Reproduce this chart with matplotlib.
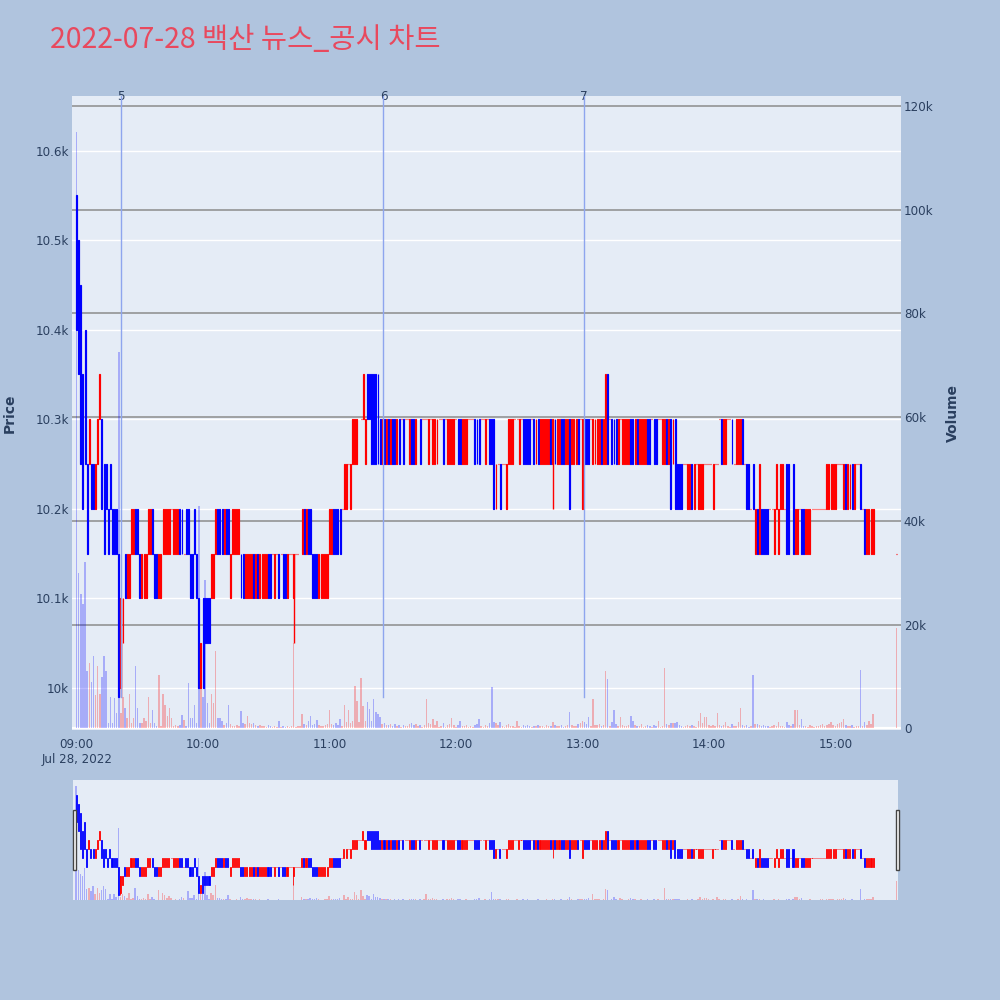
import numpy as np
import pandas as pd
import matplotlib
matplotlib.use('Agg')
from matplotlib import pyplot as plt
from matplotlib.patches import Rectangle

# 1-minute bars, 2022-07-28 (09:00 .. 15:18, then the 15:29 close)
title = '2022-07-28 백산 뉴스_공시 차트'
times = list(pd.date_range('2022-07-28 09:00', '2022-07-28 15:18', freq='min')) + [pd.Timestamp('2022-07-28 15:29')]

opens = [
    10550, 10500, 10450, 10350, 10400, 10250, 10250, 10250, 10250, 10200,
    10250, 10300, 10300, 10250, 10250, 10200, 10250, 10200, 10200, 10200,
    10150, 10000, 10050, 10150, 10100, 10100, 10150, 10150, 10200, 10200,
    10150, 10100, 10100, 10100, 10150, 10150, 10200, 10150, 10150, 10100,
    10100, 10150, 10150, 10150, 10150, 10200, 10150, 10150, 10150, 10200,
    10200, 10150, 10200, 10200, 10150, 10150, 10200, 10150, 10100, 10000,
    10100, 10100, 10100, 10100, 10100, 10100, 10150, 10200, 10200, 10200,
    10150, 10200, 10200, 10100, 10150, 10150, 10150, 10150, 10150, 10150,
    10100, 10100, 10100, 10100, 10150, 10100, 10150, 10100, 10100, 10100,
    10100, 10150, 10150, 10150, 10100, 10150, 10150, 10150, 10150, 10150,
    10100, 10150, 10150, 10100, 10150, 10150, 10150, 10150, 10200, 10150,
    10200, 10200, 10150, 10150, 10150, 10100, 10100, 10100, 10100, 10100,
    10150, 10150, 10200, 10200, 10200, 10200, 10200, 10200, 10200, 10250,
    10200, 10250, 10250, 10250, 10300, 10300, 10300, 10250, 10350, 10350,
    10350, 10350, 10350, 10350, 10300, 10250, 10300, 10250, 10300, 10250,
    10300, 10300, 10250, 10300, 10300, 10300, 10300, 10300, 10250, 10300,
    10300, 10250, 10300, 10300, 10300, 10300, 10300, 10250, 10300, 10250,
    10250, 10250, 10300, 10300, 10300, 10300, 10250, 10250, 10250, 10250,
    10300, 10300, 10300, 10250, 10250, 10250, 10300, 10300, 10300, 10300,
    10300, 10300, 10300, 10300, 10250, 10300, 10300, 10300, 10300, 10200,
    10250, 10250, 10250, 10250, 10200, 10250, 10250, 10250, 10300, 10300,
    10250, 10300, 10300, 10300, 10300, 10300, 10300, 10300, 10250, 10300,
    10250, 10250, 10250, 10250, 10250, 10300, 10250, 10300, 10250, 10250,
    10300, 10300, 10250, 10250, 10300, 10250, 10250, 10250, 10300, 10300,
    10200, 10300, 10300, 10300, 10300, 10250, 10250, 10250, 10250, 10300,
    10250, 10250, 10350, 10300, 10300, 10300, 10300, 10250, 10300, 10250,
    10250, 10250, 10250, 10300, 10300, 10250, 10300, 10250, 10250, 10250,
    10250, 10300, 10300, 10300, 10300, 10300, 10300, 10300, 10250, 10250,
    10300, 10250, 10300, 10250, 10300, 10250, 10250, 10250, 10250, 10250,
    10200, 10200, 10250, 10200, 10250, 10200, 10200, 10200, 10250, 10250,
    10250, 10250, 10200, 10250, 10250, 10300, 10300, 10250, 10250, 10300,
    10300, 10300, 10250, 10250, 10250, 10250, 10300, 10250, 10250, 10250,
    10200, 10250, 10150, 10200, 10150, 10200, 10200, 10200, 10200, 10200,
    10200, 10150, 10200, 10150, 10200, 10200, 10200, 10250, 10250, 10200,
    10250, 10150, 10150, 10200, 10200, 10200, 10150, 10150, 10150, 10200,
    10200, 10200, 10200, 10200, 10200, 10200, 10200, 10200, 10200, 10200,
    10200, 10250, 10250, 10250, 10200, 10250, 10200, 10200, 10250, 10200,
    10250, 10250, 10250, 10200, 10200, 10150, 10150, 10150, 10150,
    10150,
]
closes = [
    10400, 10350, 10250, 10200, 10250, 10150, 10300, 10200, 10200, 10250,
    10300, 10350, 10200, 10150, 10200, 10150, 10200, 10150, 10150, 10150,
    9990, 10100, 10100, 10100, 10150, 10150, 10200, 10200, 10150, 10150,
    10100, 10150, 10150, 10150, 10200, 10200, 10150, 10100, 10100, 10150,
    10150, 10200, 10200, 10200, 10200, 10200, 10200, 10200, 10200, 10150,
    10150, 10150, 10150, 10150, 10100, 10100, 10150, 10100, 10000, 10050,
    10000, 10050, 10050, 10050, 10150, 10150, 10200, 10150, 10150, 10150,
    10200, 10150, 10150, 10150, 10200, 10200, 10200, 10200, 10100, 10100,
    10150, 10150, 10150, 10150, 10100, 10150, 10100, 10150, 10150, 10150,
    10150, 10100, 10100, 10150, 10150, 10150, 10100, 10150, 10100, 10100,
    10150, 10150, 10150, 10150, 10150, 10150, 10150, 10200, 10150, 10200,
    10150, 10150, 10100, 10100, 10100, 10150, 10150, 10150, 10150, 10150,
    10200, 10200, 10150, 10150, 10150, 10150, 10200, 10250, 10250, 10250,
    10250, 10300, 10300, 10300, 10300, 10300, 10350, 10300, 10300, 10300,
    10250, 10250, 10250, 10250, 10250, 10300, 10250, 10300, 10250, 10300,
    10250, 10250, 10300, 10250, 10300, 10250, 10300, 10300, 10300, 10250,
    10250, 10300, 10300, 10250, 10300, 10300, 10300, 10300, 10300, 10300,
    10300, 10300, 10300, 10300, 10250, 10300, 10300, 10300, 10300, 10300,
    10300, 10250, 10250, 10300, 10300, 10300, 10300, 10300, 10300, 10250,
    10250, 10250, 10300, 10300, 10300, 10300, 10250, 10250, 10200, 10250,
    10250, 10200, 10250, 10250, 10250, 10300, 10300, 10300, 10300, 10300,
    10300, 10300, 10250, 10250, 10250, 10250, 10300, 10250, 10300, 10250,
    10300, 10300, 10300, 10300, 10300, 10250, 10300, 10250, 10300, 10300,
    10250, 10250, 10300, 10300, 10200, 10300, 10300, 10300, 10250, 10300,
    10300, 10250, 10250, 10250, 10300, 10300, 10300, 10300, 10300, 10250,
    10300, 10350, 10250, 10300, 10250, 10250, 10250, 10300, 10300, 10300,
    10300, 10300, 10300, 10250, 10250, 10300, 10250, 10300, 10300, 10300,
    10300, 10250, 10250, 10300, 10250, 10250, 10300, 10300, 10300, 10300,
    10250, 10300, 10200, 10300, 10200, 10200, 10200, 10200, 10250, 10250,
    10250, 10250, 10200, 10250, 10250, 10250, 10250, 10250, 10250, 10250,
    10250, 10250, 10250, 10250, 10250, 10300, 10250, 10300, 10300, 10300,
    10300, 10250, 10250, 10300, 10300, 10300, 10250, 10250, 10200, 10200,
    10200, 10200, 10200, 10150, 10250, 10150, 10150, 10150, 10150, 10200,
    10200, 10200, 10250, 10200, 10250, 10250, 10200, 10150, 10150, 10200,
    10150, 10200, 10200, 10200, 10150, 10150, 10200, 10200, 10200, 10200,
    10200, 10200, 10200, 10200, 10200, 10200, 10250, 10250, 10250, 10250,
    10250, 10250, 10250, 10250, 10250, 10200, 10250, 10250, 10200, 10250,
    10250, 10250, 10200, 10200, 10150, 10200, 10200, 10200, 10200,
    10150,
]
volumes = [
    115000, 30000, 26000, 24000, 32000, 11000, 12600, 9000, 14000, 6400,
    12000, 6700, 10000, 14000, 11000, 1000, 6000, 1000, 5800, 3000,
    72500, 3000, 6000, 4000, 2000, 6600, 1000, 2000, 12000, 4000,
    1000, 1000, 2000, 1500, 6000, 1000, 3500, 1000, 500, 10400,
    500, 6600, 4600, 2500, 4000, 2000, 500, 600, 500, 700,
    2600, 1700, 400, 8800, 2000, 2000, 4600, 1000, 42800, 9300,
    6000, 28600, 5000, 1000, 6600, 5000, 15000, 2000, 2000, 1500,
    600, 1000, 4600, 800, 500, 400, 600, 500, 3400, 1000,
    900, 2500, 1000, 800, 1000, 600, 500, 700, 400, 500,
    300, 600, 400, 300, 500, 300, 1500, 300, 400, 300,
    500, 300, 400, 16500, 300, 400, 500, 2700, 800, 600,
    1500, 2400, 700, 900, 1700, 600, 500, 400, 700, 900,
    3600, 800, 600, 1000, 700, 1900, 500, 4600, 1200, 3500,
    1000, 1500, 8100, 5300, 1200, 9700, 4300, 1500, 5100, 3800,
    1500, 5700, 3200, 2800, 2200, 800, 1000, 700, 600, 900,
    500, 800, 400, 600, 300, 700, 400, 500, 900, 1000,
    600, 800, 400, 700, 300, 600, 5600, 1000, 800, 1900,
    600, 1400, 300, 500, 1000, 300, 600, 800, 2000, 700,
    300, 600, 1400, 500, 400, 600, 300, 400, 300, 700,
    900, 1900, 400, 300, 600, 400, 1100, 8000, 1300, 1000,
    700, 1200, 400, 300, 600, 800, 500, 400, 300, 1500,
    500, 300, 700, 400, 600, 500, 300, 400, 500, 700,
    500, 400, 300, 600, 400, 500, 1200, 700, 500, 400,
    600, 300, 500, 700, 3200, 600, 400, 500, 800, 1000,
    1500, 1200, 900, 2300, 500, 5600, 700, 600, 800, 500,
    700, 11000, 9600, 400, 1200, 3500, 800, 500, 2200, 600,
    400, 500, 700, 2500, 1500, 600, 400, 500, 800, 300,
    400, 600, 500, 300, 600, 400, 1500, 300, 500, 11700,
    800, 600, 1000, 1100, 1000, 1200, 600, 400, 300, 500,
    700, 400, 600, 500, 300, 1500, 3000, 1000, 2300, 2300,
    600, 400, 700, 500, 3000, 600, 400, 700, 1200, 500,
    300, 800, 500, 400, 1200, 4000, 700, 400, 600, 300,
    500, 10400, 900, 800, 600, 500, 700, 400, 500, 300,
    400, 600, 500, 1300, 400, 500, 300, 1200, 600, 400,
    800, 3500, 3500, 600, 1900, 400, 500, 300, 600, 400,
    300, 500, 400, 600, 800, 500, 700, 900, 1200, 600,
    500, 800, 1000, 1200, 1900, 600, 500, 400, 600, 300,
    500, 400, 11300, 500, 1200, 600, 1500, 800, 2700,
    19300,
]
# candles with a lower shadow below the body
wick_times = ['09:21', '10:43', '12:46']
wick_lows = [9990, 10050, 10200]

news_times = ['09:21:00', '11:25:36', '13:00:36']
news_labels = ['5', '6', '7']

price_ticks = [10000, 10100, 10200, 10300, 10400, 10500, 10600]
price_labels = ['10k', '10.1k', '10.2k', '10.3k', '10.4k', '10.5k', '10.6k']
vol_ticks = [0, 20000, 40000, 60000, 80000, 100000, 120000]
vol_labels = ['0', '20k', '40k', '60k', '80k', '100k', '120k']
hour_ticks = ['09:00', '10:00', '11:00', '12:00', '13:00', '14:00', '15:00']

bg_fig = '#B0C4DE'
bg_plot = '#E5ECF6'
txt = '#2a3f5f'
up_col = '#ff0000'
down_col = '#0000ff'


def to_min(hhmm):
    t = pd.Timestamp('2022-07-28 ' + hhmm)
    return (t - times[0]).total_seconds() / 60


x = np.array([(t - times[0]).total_seconds() / 60 for t in times])
o = np.array(opens, dtype=float)
c = np.array(closes, dtype=float)
hi = np.maximum(o, c)
lo = np.minimum(o, c)
for wt, wl in zip(wick_times, wick_lows):
    lo[x == to_min(wt)] = wl
cols = np.where(c >= o, up_col, down_col)
has_wick = (lo < np.minimum(o, c)) | (hi > np.maximum(o, c))

fig = plt.figure(figsize=(10, 10), dpi=100, facecolor=bg_fig)

# main panel: volume underneath (right axis), price on top (left axis)
rect = [0.072, 0.270, 0.829, 0.634]
ax_vol = fig.add_axes(rect, facecolor=bg_plot)
ax = fig.add_axes(rect, sharex=ax_vol)
ax.patch.set_visible(False)

ax.set_xlim(-2.2, 391.2)
ax.set_ylim(9953, 10661)
ax_vol.set_ylim(-290, 121900)

for p in price_ticks:
    ax_vol.plot([0, 1], [p, p], color='white', lw=1.0, zorder=0.6,
                transform=ax.get_yaxis_transform())
for v in vol_ticks[1:]:
    ax_vol.axhline(v, color='#8c8c8c', lw=1.1, zorder=0.7)
ax_vol.axhline(0, color='white', lw=1.6, zorder=0.7)

ax_vol.bar(x, volumes, width=0.7, color=cols, alpha=0.27, linewidth=0, zorder=2)

ax.vlines(x[has_wick], lo[has_wick], hi[has_wick], colors=cols[has_wick], lw=1.0, zorder=2.9)
ax.bar(x, c - o, bottom=o, width=0.45, color=cols, edgecolor=cols, linewidth=0.85, zorder=3)

for nt, nl in zip(news_times, news_labels):
    xm = to_min(nt)
    ax.axvline(xm, ymin=0.052, ymax=1.0, color='#8ea5ee', lw=1.0, zorder=4)
    ax.text(xm, 1.0, nl, transform=ax.get_xaxis_transform(), ha='center', va='center',
            fontsize=8.6, color=txt)

ax.set_yticks(price_ticks)
ax.set_yticklabels(price_labels)
ax.set_xticks([to_min(h) for h in hour_ticks])
ax.set_xticklabels(['09:00\nJul 28, 2022'] + hour_ticks[1:], linespacing=1.15)
ax.tick_params(axis='y', length=0, pad=2, labelsize=8.6, labelcolor=txt)
ax.tick_params(axis='x', length=0, pad=6, labelsize=8.6, labelcolor=txt)

ax_vol.yaxis.tick_right()
ax_vol.set_yticks(vol_ticks)
ax_vol.set_yticklabels(vol_labels)
ax_vol.tick_params(axis='y', length=0, pad=2, labelsize=8.6, labelcolor=txt)
ax_vol.tick_params(axis='x', length=0, labelbottom=False)

for a in (ax, ax_vol):
    for s in a.spines.values():
        s.set_visible(False)

fig.text(0.010, 0.587, 'Price', rotation=90, ha='center', va='center',
         fontsize=10, fontweight='bold', color=txt)
fig.text(0.953, 0.587, 'Volume', rotation=90, ha='center', va='center',
         fontsize=10, fontweight='bold', color=txt)
fig.text(0.050, 0.960, title, ha='left', va='center', fontsize=20.5, color='#e8495e',
         family=['Noto Sans CJK KR', 'DejaVu Sans'])

# range slider
rs_rect = [0.073, 0.100, 0.825, 0.120]
rs_vol = fig.add_axes(rs_rect, facecolor=bg_plot)
rs = fig.add_axes(rs_rect, sharex=rs_vol)
rs.patch.set_visible(False)
rs.set_xlim(-1.5, 389.8)
rs.set_ylim(9963, 10637)
rs_vol.set_ylim(0, 121000)
rs_vol.bar(x, volumes, width=0.7, color=cols, alpha=0.27, linewidth=0)
rs.vlines(x[has_wick], lo[has_wick], hi[has_wick], colors=cols[has_wick], lw=0.6)
rs.bar(x, c - o, bottom=o, width=0.5, color=cols, edgecolor=cols, linewidth=0.6)
for a in (rs, rs_vol):
    a.set_xticks([])
    a.set_yticks([])
    for s in a.spines.values():
        s.set_visible(False)

for hx in (0.0727, 0.8958):
    fig.patches.append(Rectangle((hx, 0.130), 0.0035, 0.060, transform=fig.transFigure,
                                 facecolor='white', edgecolor='#444444', lw=1.0))

fig.savefig('out.png', dpi=100, facecolor=bg_fig)
